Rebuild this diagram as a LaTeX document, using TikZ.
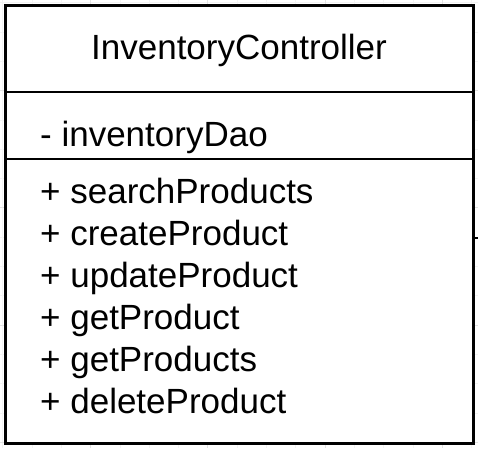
\documentclass[tikz,border=0pt]{standalone}
\usepackage{fontspec}
\setmainfont{Liberation Sans}
\definecolor{gridminor}{HTML}{F3F3F3}
\definecolor{gridmajor}{HTML}{E2E2E2}
\tikzset{
  umlbox/.style={draw=black, line width=3pt, fill=white},
  sepline/.style={draw=black, line width=2.5pt},
  member/.style={anchor=base west, inner sep=0pt, font=\fontsize{35}{42}\selectfont},
  titletext/.style={anchor=base, inner sep=0pt, font=\fontsize{35}{42}\selectfont},
}
\begin{document}
\begin{tikzpicture}[x=1pt,y=-1pt]
\useasboundingbox (0,0) rectangle (478,448);
\fill[white] (0,0) rectangle (478,448);
% faint background grid
\foreach \k in {0,...,16}{
  \pgfmathtruncatemacro{\m}{mod(\k,4)==3 ? 1 : 0}
  \ifnum\m=1
    \draw[gridmajor, line width=0.8pt] ({2.7+29.3*\k},0) -- ({2.7+29.3*\k},448);
    \draw[gridmajor, line width=0.8pt] (0,{2.7+29.3*\k}) -- (478,{2.7+29.3*\k});
  \else
    \draw[gridminor, line width=0.8pt] ({2.7+29.3*\k},0) -- ({2.7+29.3*\k},448);
    \draw[gridminor, line width=0.8pt] (0,{2.7+29.3*\k}) -- (478,{2.7+29.3*\k});
  \fi
}
% class box
\draw[umlbox] (5,5) rectangle (473,443);
\coordinate (hl) at (5,92);
\coordinate (hr) at (473,92);
\coordinate (al) at (5,159);
\coordinate (ar) at (473,159);
\draw[sepline] (hl) -- (hr);
\draw[sepline] (al) -- (ar);
% small connector stub on right side
\coordinate (stubA) at (473,238);
\coordinate (stubB) at (478,238);
\draw[line width=2pt] (stubA) -- (stubB);
% texts
\node[titletext] (title) at (239,59) {InventoryController};
\node[member] (attr) at (40,146) {- inventoryDao};
\node[member] (m1) at (40,203) {+ searchProducts};
\node[member] (m2) at (40,245) {+ createProduct};
\node[member] (m3) at (40,287) {+ updateProduct};
\node[member] (m4) at (40,329) {+ getProduct};
\node[member] (m5) at (40,371) {+ getProducts};
\node[member] (m6) at (40,413) {+ deleteProduct};
\end{tikzpicture}
\end{document}
